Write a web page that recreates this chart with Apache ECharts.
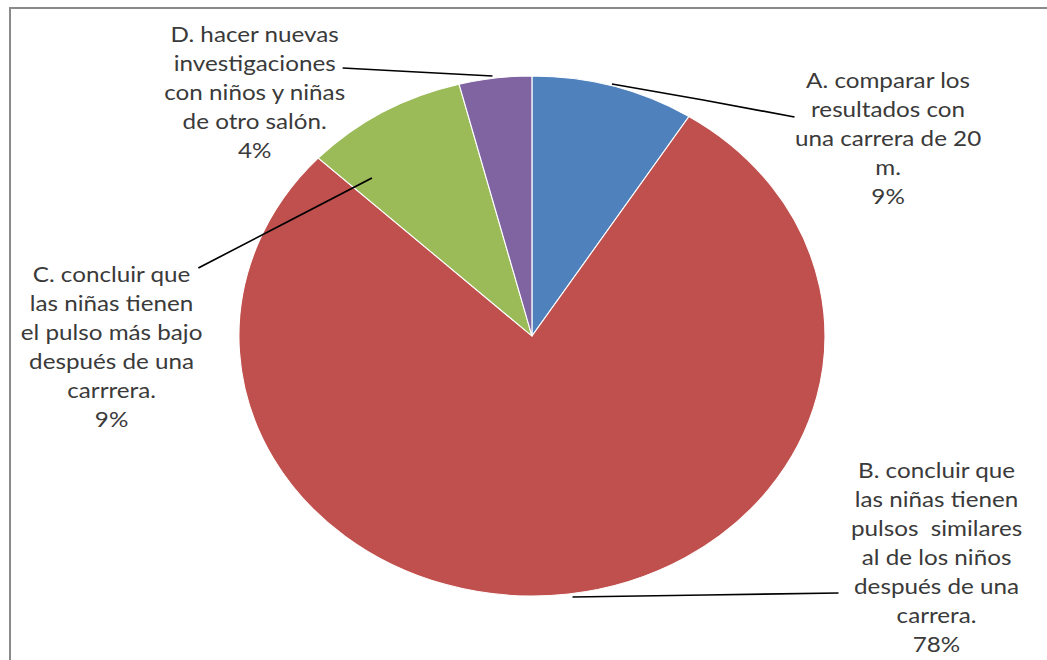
<!DOCTYPE html>
<html>
<head>
<meta charset="utf-8">
<script src="https://cdn.jsdelivr.net/npm/echarts@6/dist/echarts.min.js"></script>
<style>
  html, body { margin: 0; padding: 0; width: 1047px; height: 660px; overflow: hidden; background: #ffffff; }
  #frame { position: absolute; left: 9px; top: 7px; width: 1100px; height: 700px; border: 2px solid #8a8a8a; box-sizing: border-box; }
  #chart { position: absolute; left: 0; top: 0; width: 929px; height: 660px; transform: scaleX(1.127); transform-origin: 0 0; }
</style>
</head>
<body>
<div id="frame"></div>
<div id="chart"></div>
<script>
// Data
const categories = [
  'A. comparar los\nresultados con\nuna carrera de 20\nm.',
  'B. concluir que\nlas niñas tienen\npulsos  similares\nal de los niños\ndespués de una\ncarrera.',
  'C. concluir que\nlas niñas tienen\nel pulso más bajo\ndespués de una\ncarrrera.',
  'D. hacer nuevas\ninvestigaciones\ncon niños y niñas\nde otro salón.'
];
const values = [9, 78, 9, 4];
const colors = ['#4F81BD', '#C0504D', '#9BBB59', '#8064A2'];

// Label placement and leader lines (chart space, before horizontal stretch)
const labelPlaces = [
  { x: 788, y: 138, line: [[543, 84], [624, 100], [705, 117]] },
  { x: 831, y: 557, line: [[508, 597], [626, 595], [744, 593]] },
  { x: 99, y: 346, line: [[330, 178], [253, 223], [176, 268]] },
  { x: 226, y: 92, line: [[437, 76], [370, 72], [304, 68]] }
];

const pieBase = {
  type: 'pie',
  center: [472, 336],
  radius: 260,
  startAngle: 90,
  clockwise: true,
  silent: true
};

const chart = echarts.init(document.getElementById('chart'), null, { renderer: 'svg' });
chart.setOption({
  animation: false,
  backgroundColor: 'transparent',
  series: [
    Object.assign({}, pieBase, {
      z: 1,
      data: categories.map((c, i) => ({ name: c, value: values[i], itemStyle: { color: colors[i] } })),
      itemStyle: { borderColor: '#ffffff', borderWidth: 1 },
      label: { show: false },
      labelLine: { show: false }
    }),
    Object.assign({}, pieBase, {
      z: 5,
      data: categories.map((c, i) => ({ name: c, value: values[i] })),
      itemStyle: { color: 'rgba(0,0,0,0)', borderWidth: 0 },
      label: {
        show: true,
        position: 'outside',
        formatter: '{b}\n{d}%',
        fontFamily: 'Lato',
        fontSize: 21.5,
        lineHeight: 29,
        color: '#3a3a3a',
        align: 'center'
      },
      labelLine: { show: true, length: 20, length2: 0, lineStyle: { color: '#000000', width: 1.6 } },
      labelLayout: function (p) {
        const pos = labelPlaces[p.dataIndex];
        return { x: pos.x, y: pos.y, align: 'center', verticalAlign: 'middle', labelLinePoints: pos.line };
      }
    })
  ]
});
</script>
</body>
</html>
